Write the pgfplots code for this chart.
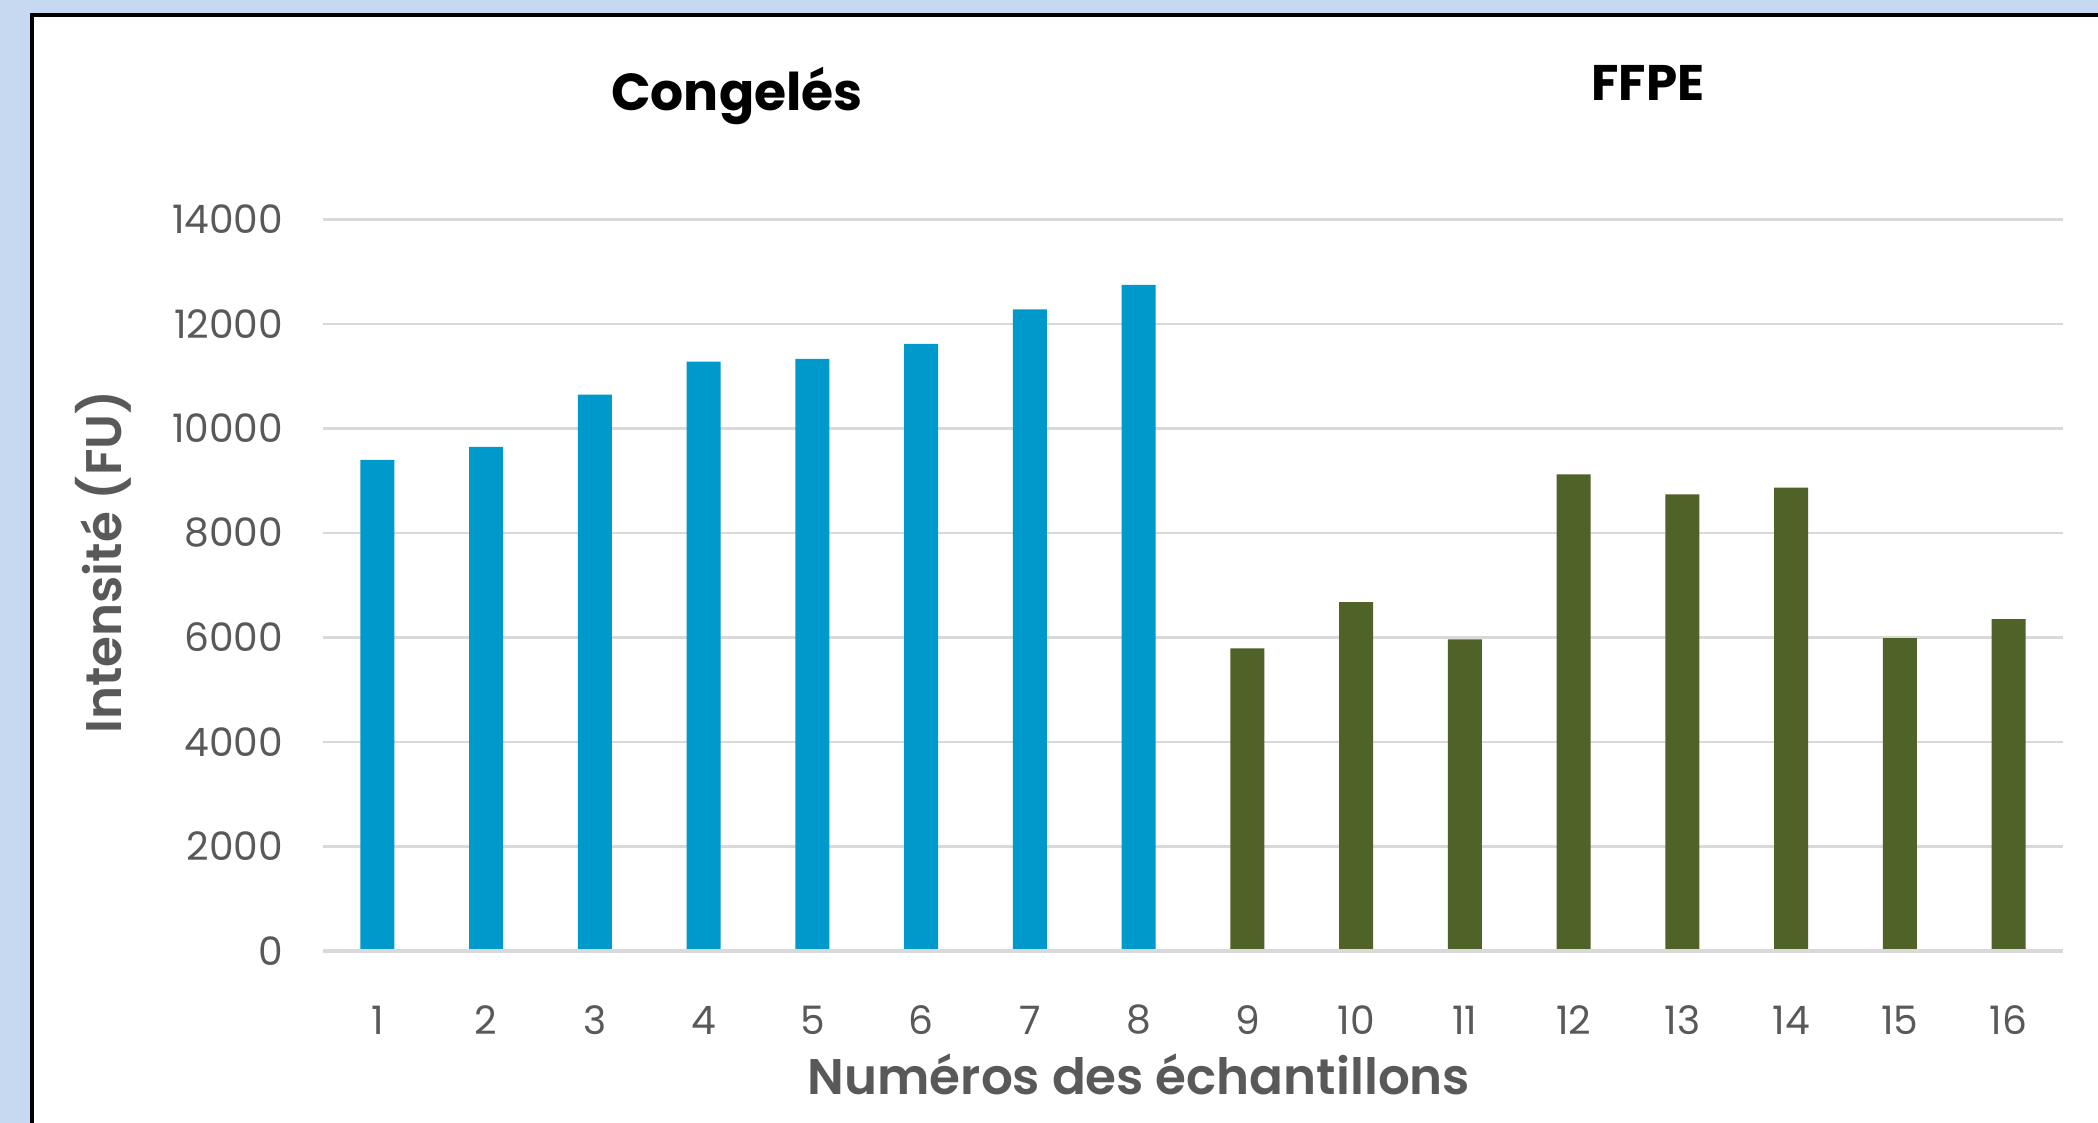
\documentclass[border=0pt]{standalone}
\usepackage{pgfplots}
\pgfplotsset{compat=1.18}
\usepackage{fontspec}
\setmainfont{Poppins}[BoldFont=* SemiBold]
\newfontfamily\popbold{Poppins Bold}
\definecolor{bgblue}{HTML}{C6D9F0}
\definecolor{barblue}{HTML}{0099CC}
\definecolor{bargreen}{HTML}{4F6228}
\definecolor{gridgray}{HTML}{D9D9D9}
\definecolor{txtgray}{HTML}{595959}
\begin{document}
\begin{tikzpicture}
\useasboundingbox (0,0) rectangle (524.5pt,280.75pt);
\fill[bgblue] (0,0) rectangle (524.5pt,280.75pt);
\begin{scope}
\clip (0,0) rectangle (524.5pt,280.75pt);
\draw[black, line width=1pt, fill=white] (8pt,-10pt) rectangle (540pt,277pt);
\end{scope}
\begin{axis}[
  at={(80.75pt,43pt)}, anchor=south west,
  scale only axis, width=435pt, height=182.875pt,
  xmin=0.5, xmax=16.5, ymin=0, ymax=14000,
  ybar, bar width=8.5pt, bar shift=0pt,
  axis line style={draw=none},
  axis x line*=bottom,
  ytick={0,2000,...,14000},
  xtick={1,...,16},
  scaled y ticks=false,
  yticklabel style={/pgf/number format/fixed, /pgf/number format/precision=0},
  major tick length=0pt,
  ymajorgrids, grid style={gridgray, line width=0.6pt},
  tick label style={txtgray, font=\fontsize{9.8}{12}\selectfont},
  xticklabel style={anchor=center, yshift=-17.25pt},
  yticklabel style={anchor=east, inner sep=0pt, xshift=-9.75pt},
  /pgf/number format/assume math mode=true,
  /pgf/number format/set thousands separator={},
  clip=false,
]
\addplot[fill=barblue, draw=none] coordinates {(1,9400) (2,9650) (3,10650) (4,11280) (5,11330) (6,11620) (7,12280) (8,12750)};
\addplot[fill=bargreen, draw=none] coordinates {(9,5790) (10,6675) (11,5965) (12,9120) (13,8740) (14,8870) (15,5990) (16,6350)};
\draw[gridgray, line width=0.8pt] (axis cs:0.5,0) -- (axis cs:16.5,0);
\end{axis}
\node[txtgray, font=\bfseries\fontsize{12.5}{14}\selectfont] at (284.75pt,12.25pt) {Numéros des échantillons};
\node[txtgray, font=\bfseries\fontsize{12.5}{14}\selectfont, rotate=90] at (25.75pt,140.25pt) {Intensité (FU)};
\node[black, font=\popbold\fontsize{13}{15}\selectfont] at (184.25pt,256.75pt) {Congelés};
\node[black, font=\popbold\fontsize{12.5}{15}\selectfont] at (412pt,260pt) {FFPE};
\end{tikzpicture}
\end{document}
